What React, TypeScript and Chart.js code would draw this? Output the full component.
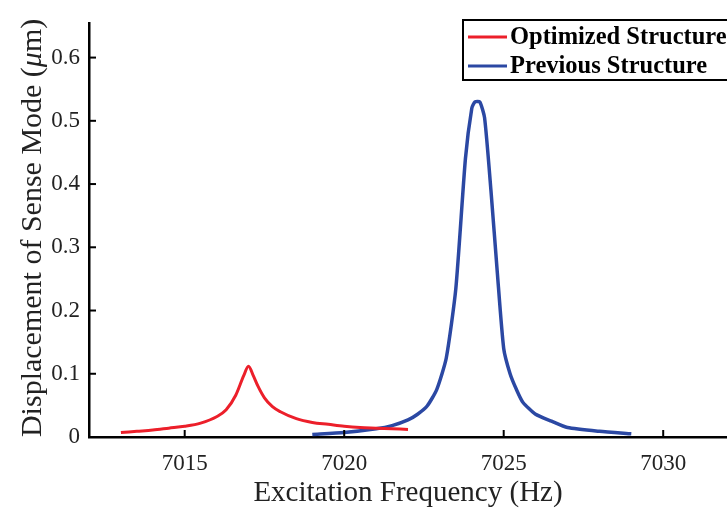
import React, { useEffect, useRef } from "react";
import { Chart, registerables } from "chart.js";

Chart.register(...registerables);

const optimizedFreq = [7013, 7013.5, 7014, 7014.5, 7015, 7015.5, 7016, 7016.3, 7016.6, 7016.85, 7017, 7017.15, 7017.3, 7017.5, 7017.75, 7018, 7018.5, 7019, 7019.5, 7020, 7020.5, 7021, 7021.5, 7022];
const optimizedDisp = [0.007, 0.009, 0.011, 0.014, 0.017, 0.022, 0.032, 0.043, 0.066, 0.097, 0.112, 0.097, 0.08, 0.062, 0.048, 0.04, 0.029, 0.023, 0.02, 0.017, 0.015, 0.014, 0.013, 0.012];

const previousFreq = [7019, 7020, 7021, 7021.5, 7022, 7022.3, 7022.6, 7022.9, 7023.2, 7023.5, 7023.8, 7024.0, 7024.1, 7024.25, 7024.4, 7024.6, 7024.8, 7025.0, 7025.2, 7025.4, 7025.6, 7026, 7026.5, 7027, 7028, 7029];
const previousDisp = [0.004, 0.007, 0.013, 0.018, 0.027, 0.036, 0.049, 0.075, 0.125, 0.235, 0.44, 0.52, 0.53, 0.53, 0.505, 0.39, 0.26, 0.14, 0.1, 0.075, 0.055, 0.036, 0.025, 0.015, 0.009, 0.005];

const xTicks = [7015, 7020, 7025, 7030];
const yTicks = [0, 0.1, 0.2, 0.3, 0.4, 0.5, 0.6];
const seriesNames = ["Optimized Structure", "Previous Structure"];
const seriesColors = ["#ec1f2a", "#2b48a3"];
const yTitleParts = ["Displacement of Sense Mode (", "μ", "m)"];

const SERIF = "'Liberation Serif', 'Times New Roman', serif";

const inwardTicks = {
  id: "inwardTicks",
  afterDatasetsDraw(chart: any) {
    const { ctx, chartArea, scales } = chart;
    ctx.save();
    ctx.strokeStyle = "#000";
    ctx.lineWidth = 2;
    xTicks.forEach((v) => {
      const px = scales.x.getPixelForValue(v);
      ctx.beginPath();
      ctx.moveTo(px, chartArea.bottom);
      ctx.lineTo(px, chartArea.bottom - 7);
      ctx.stroke();
    });
    yTicks.forEach((v) => {
      const py = scales.y.getPixelForValue(v);
      ctx.beginPath();
      ctx.moveTo(chartArea.left, py);
      ctx.lineTo(chartArea.left + 7, py);
      ctx.stroke();
    });
    ctx.restore();
  },
};

const yTitle = {
  id: "yTitle",
  afterDraw(chart: any) {
    const { ctx, chartArea } = chart;
    ctx.save();
    const cy = (chartArea.top + chartArea.bottom) / 2 - 2;
    ctx.translate(33, cy);
    ctx.rotate(-Math.PI / 2);
    ctx.fillStyle = "#222";
    ctx.textBaseline = "middle";
    ctx.textAlign = "left";
    const fonts = [`30px ${SERIF}`, `italic 30px ${SERIF}`, `30px ${SERIF}`];
    const widths = yTitleParts.map((p, i) => {
      ctx.font = fonts[i];
      return ctx.measureText(p).width;
    });
    const total = widths.reduce((a, b) => a + b, 0);
    let x = -total / 2;
    yTitleParts.forEach((p, i) => {
      ctx.font = fonts[i];
      ctx.fillText(p, x, 0);
      x += widths[i];
    });
    ctx.restore();
  },
};

const boxedLegend = {
  id: "boxedLegend",
  afterDraw(chart: any) {
    const { ctx } = chart;
    ctx.save();
    const bx = 463, by = 20, bw = 290, bh = 60;
    ctx.fillStyle = "#fff";
    ctx.fillRect(bx, by, bw, bh);
    ctx.strokeStyle = "#000";
    ctx.lineWidth = 2;
    ctx.strokeRect(bx, by, bw, bh);
    ctx.font = `bold 24.5px ${SERIF}`;
    ctx.textBaseline = "middle";
    ctx.textAlign = "left";
    seriesNames.forEach((name, i) => {
      const y = 37 + i * 29;
      ctx.strokeStyle = seriesColors[i];
      ctx.lineWidth = 3;
      ctx.beginPath();
      ctx.moveTo(468, y);
      ctx.lineTo(507, y);
      ctx.stroke();
      ctx.fillStyle = "#000";
      ctx.fillText(name, 510, y + 1);
    });
    ctx.restore();
  },
};

export default function App() {
  const ref = useRef<HTMLCanvasElement>(null);
  useEffect(() => {
    if (!ref.current) return;
    const chart = new Chart(ref.current, {
      type: "line",
      data: {
        datasets: [
          {
            label: seriesNames[0],
            data: optimizedFreq.map((x, i) => ({ x, y: optimizedDisp[i] })),
            borderColor: seriesColors[0],
            borderWidth: 3,
            pointRadius: 0,
            cubicInterpolationMode: "monotone",
          },
          {
            label: seriesNames[1],
            data: previousFreq.map((x, i) => ({ x, y: previousDisp[i] })),
            borderColor: seriesColors[1],
            borderWidth: 3.5,
            pointRadius: 0,
            tension: 0.2,
          },
        ],
      },
      options: {
        animation: false,
        responsive: false,
        devicePixelRatio: 1,
        layout: { padding: { top: 13, right: 0, left: 0, bottom: 0 } },
        plugins: { legend: { display: false }, tooltip: { enabled: false } },
        scales: {
          x: {
            type: "linear",
            min: 7012,
            max: 7032,
            afterBuildTicks: (s: any) => { s.ticks = xTicks.map((value) => ({ value })); },
            afterFit: (s: any) => { s.height = 71; },
            grid: { display: true, drawOnChartArea: false, drawTicks: false },
            border: { display: true, color: "#000", width: 2.5 },
            ticks: {
              color: "#222",
              font: { family: SERIF, size: 23 },
              padding: 13,
              maxRotation: 0,
              callback: (v: any) => String(v),
            },
            title: {
              display: true,
              text: "Excitation Frequency (Hz)",
              color: "#222",
              font: { family: SERIF, size: 29, lineHeight: 1 },
              padding: { top: 1.5, bottom: 0 },
            },
          },
          y: {
            min: 0,
            max: 0.655,
            afterBuildTicks: (s: any) => { s.ticks = yTicks.map((value) => ({ value })); },
            afterFit: (s: any) => { s.width = 89; },
            grid: { display: true, drawOnChartArea: false, drawTicks: false },
            border: { display: true, color: "#000", width: 2.5 },
            ticks: {
              color: "#222",
              font: { family: SERIF, size: 23 },
              padding: 9,
              callback: (v: any) => (v === 0 ? "0" : Number(v).toFixed(1)),
            },
            title: { display: false },
          },
        },
      },
      plugins: [inwardTicks, yTitle, boxedLegend],
    } as any);
    return () => chart.destroy();
  }, []);
  return (
    <div style={{ position: "fixed", left: 0, top: 0, width: 727, height: 508, background: "#fff" }}>
      <canvas ref={ref} width={727} height={508} />
    </div>
  );
}
